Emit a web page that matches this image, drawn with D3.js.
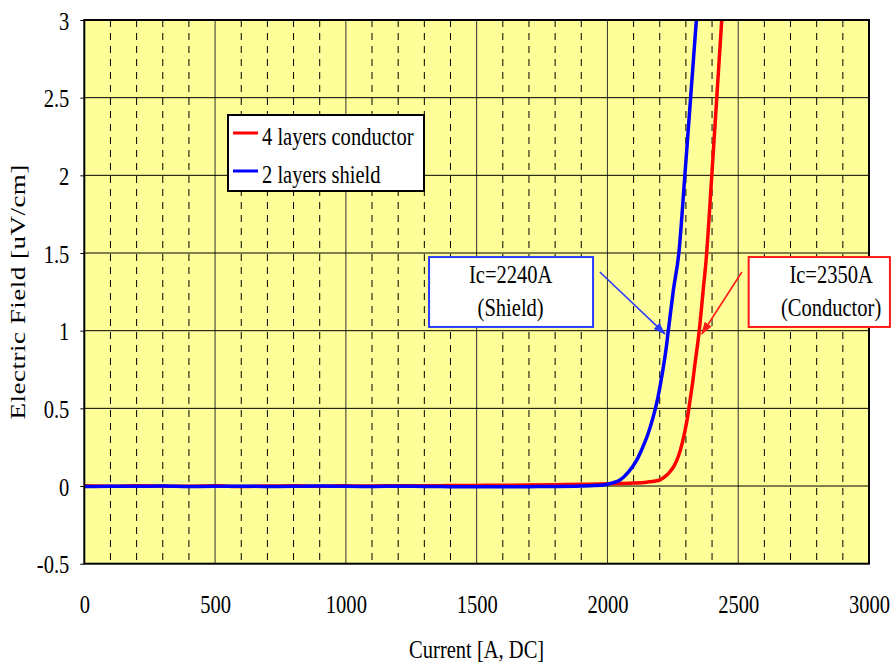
<!DOCTYPE html>
<html>
<head>
<meta charset="utf-8">
<script src="https://cdn.jsdelivr.net/npm/d3@7"></script>
<style>
  body { margin: 0; background: #fff; }
  text { font-family: "Liberation Serif", "Times New Roman", serif; fill: #000; }
</style>
</head>
<body>
<svg id="chart" width="893" height="664"></svg>
<script>
// measured data: current [A] vs electric field [uV/cm]
const conductorI = [0, 100, 200, 300, 400, 500, 600, 700, 800, 900, 1000, 1100, 1200, 1300, 1400, 1500,
  1600, 1700, 1800, 1900, 2000, 2050, 2100, 2150, 2201, 2220, 2239, 2255, 2271, 2285, 2297, 2307, 2316,
  2326, 2335, 2351, 2366, 2377, 2399, 2418, 2437];
const conductorE = [0.001, -0.002, 0.002, 0.000, -0.002, 0.001, -0.003, 0.000, 0.002, -0.001, 0.001, 0.000,
  0.002, 0.001, 0.003, 0.004, 0.005, 0.007, 0.009, 0.011, 0.014, 0.016, 0.019, 0.025, 0.040, 0.060, 0.092,
  0.130, 0.190, 0.270, 0.360, 0.450, 0.554, 0.670, 0.790, 1.000, 1.260, 1.450, 2.000, 2.500, 3.000];

const shieldI = [0, 100, 200, 300, 400, 500, 600, 700, 800, 900, 1000, 1100, 1200, 1300, 1400, 1500,
  1600, 1700, 1800, 1900, 1950, 1984, 2020, 2048, 2080, 2112, 2135, 2156, 2175, 2191, 2203, 2214, 2224,
  2233, 2252, 2273, 2296, 2318, 2340];
const shieldE = [-0.003, -0.001, -0.002, 0.000, -0.003, -0.002, -0.001, -0.003, -0.002, 0.000, -0.002,
  -0.003, -0.001, -0.003, -0.004, -0.004, -0.005, -0.004, -0.003, 0.000, 0.003, 0.007, 0.020, 0.039,
  0.090, 0.167, 0.250, 0.340, 0.445, 0.554, 0.660, 0.768, 0.880, 1.004, 1.260, 1.500, 2.000, 2.500, 3.000];

const seriesNames = ["4 layers conductor", "2 layers shield"];
const seriesColors = ["#ff0000", "#0000ff"];

const xTicks = [0, 500, 1000, 1500, 2000, 2500, 3000];
const yTicks = [-0.5, 0, 0.5, 1, 1.5, 2, 2.5, 3];

// annotations in data units: box, two text lines, arrow tail -> tip
const notes = [
  { lines: ["Ic=2240A", "(Shield)"], color: "#2a3cff", box: [1318, 1945, 1.474, 1.024], cx: 1630,
    tail: [1971, 1.378], tip: [2220, 0.979] },
  { lines: ["Ic=2350A", "(Conductor)"], color: "#ff1a1a", box: [2540, 3080, 1.474, 1.024], cx: 2855,
    tail: [2514, 1.378], tip: [2361, 0.979] }
];

const svg = d3.select("#chart");
const pLeft = 84.3, pRight = 869, pTop = 20, pBottom = 563.7;
const sx = 0.79; // text in the original is tall and narrow
const fs = 26;

const x = d3.scaleLinear().domain([0, 3000]).range([pLeft, pRight]);
const y = d3.scaleLinear().domain([-0.5, 3]).range([pBottom, pTop]);

svg.append("defs").append("clipPath").attr("id", "plot")
  .append("rect").attr("x", pLeft).attr("y", pTop).attr("width", pRight - pLeft).attr("height", pBottom - pTop);

svg.append("rect")
  .attr("x", pLeft).attr("y", pTop).attr("width", pRight - pLeft).attr("height", pBottom - pTop)
  .attr("fill", "#ffff99");

// dashed minor grid every 100 A
const g = svg.append("g");
g.selectAll("line.minor")
  .data(d3.range(100, 3000, 100).filter(v => v % 500 !== 0))
  .enter().append("line")
  .attr("x1", d => x(d)).attr("x2", d => x(d))
  .attr("y1", pTop).attr("y2", pBottom)
  .attr("stroke", "#000").attr("stroke-width", 1).attr("stroke-dasharray", "7,6");

g.selectAll("line.major")
  .data([500, 1000, 1500, 2000, 2500])
  .enter().append("line")
  .attr("x1", d => x(d)).attr("x2", d => x(d))
  .attr("y1", pTop).attr("y2", pBottom)
  .attr("stroke", "#333").attr("stroke-width", 1);

g.selectAll("line.hgrid")
  .data(yTicks.slice(1, -1))
  .enter().append("line")
  .attr("x1", pLeft).attr("x2", pRight)
  .attr("y1", d => y(d)).attr("y2", d => y(d))
  .attr("stroke", "#000").attr("stroke-width", 1);

// axes
const yAxis = svg.append("g").attr("transform", `translate(${pLeft},0)`)
  .call(d3.axisLeft(y).tickValues(yTicks).tickSize(4).tickPadding(0).tickFormat(d => String(d)));
yAxis.select(".domain").remove();
yAxis.selectAll("text")
  .attr("x", 0).attr("dy", "0.35em")
  .attr("transform", `translate(-15,0) scale(${sx},1)`)
  .style("font-size", fs + "px").style("font-family", "Liberation Serif");

const xAxis = svg.append("g").attr("transform", `translate(0,${pBottom})`)
  .call(d3.axisBottom(x).tickValues(xTicks).tickSize(0).tickFormat(d => String(d)));
xAxis.select(".domain").remove();
xAxis.selectAll("text")
  .attr("y", 0).attr("dy", 0)
  .attr("transform", `translate(0,49) scale(${sx},1)`)
  .style("font-size", fs + "px").style("font-family", "Liberation Serif");

// curves
const line = d3.line().curve(d3.curveMonotoneX).x(d => x(d[0])).y(d => y(d[1]));
const curves = [d3.zip(conductorI, conductorE), d3.zip(shieldI, shieldE)];
svg.append("g").attr("clip-path", "url(#plot)")
  .selectAll("path")
  .data(curves)
  .enter().append("path")
  .attr("d", line)
  .attr("fill", "none")
  .attr("stroke", (d, i) => seriesColors[i])
  .attr("stroke-width", 3.5)
  .attr("stroke-linejoin", "round");

// plot border
svg.append("rect")
  .attr("x", pLeft).attr("y", pTop).attr("width", pRight - pLeft).attr("height", pBottom - pTop)
  .attr("fill", "none").attr("stroke", "#000").attr("stroke-width", 2);

function label(parent, px, py, str, anchor) {
  return parent.append("text")
    .attr("transform", `translate(${px},${py}) scale(${sx},1)`)
    .attr("text-anchor", anchor || "middle")
    .style("font-size", fs + "px")
    .text(str);
}

// axis titles
label(svg, (pLeft + pRight) / 2, 658, "Current [A, DC]");
svg.append("text")
  .attr("transform", `translate(25,${(pTop + pBottom) / 2}) scale(${sx},1) rotate(-90)`)
  .attr("text-anchor", "middle")
  .style("font-size", "27px")
  .style("letter-spacing", "0.5px")
  .text("Electric Field [uV/cm]");

// legend
const lg = svg.append("g");
lg.append("rect")
  .attr("x", 228).attr("y", 115).attr("width", 196).attr("height", 76)
  .attr("fill", "#fff").attr("stroke", "#000").attr("stroke-width", 2);
seriesNames.forEach((name, i) => {
  const ly = 133 + i * 38;
  lg.append("line")
    .attr("x1", 233).attr("x2", 258).attr("y1", ly).attr("y2", ly)
    .attr("stroke", seriesColors[i]).attr("stroke-width", 3);
  label(lg, 262, ly + 12, name, "start");
});

// Ic annotations
const ng = svg.append("g");
ng.append("defs").selectAll("marker")
  .data(notes)
  .enter().append("marker")
  .attr("id", (d, i) => "arrow" + i)
  .attr("viewBox", "0 0 12 8").attr("refX", 11).attr("refY", 4)
  .attr("markerWidth", 8).attr("markerHeight", 5.5).attr("orient", "auto")
  .attr("markerUnits", "strokeWidth")
  .append("path").attr("d", "M0,0L12,4L0,8z").attr("fill", d => d.color);

notes.forEach((n, i) => {
  ng.append("line")
    .attr("x1", x(n.tail[0])).attr("y1", y(n.tail[1]))
    .attr("x2", x(n.tip[0])).attr("y2", y(n.tip[1]))
    .attr("stroke", n.color).attr("stroke-width", 1.6)
    .attr("marker-end", `url(#arrow${i})`);
  ng.append("rect")
    .attr("x", x(n.box[0])).attr("y", y(n.box[2]))
    .attr("width", x(n.box[1]) - x(n.box[0])).attr("height", y(n.box[3]) - y(n.box[2]))
    .attr("fill", "#fff").attr("stroke", n.color).attr("stroke-width", 2);
  label(ng, x(n.cx), 283, n.lines[0]);
  label(ng, x(n.cx), 316, n.lines[1]);
});
</script>
</body>
</html>
